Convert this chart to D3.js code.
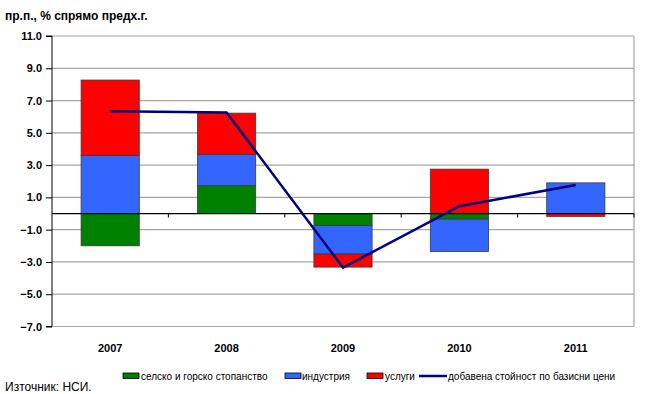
<!DOCTYPE html>
<html><head><meta charset="utf-8">
<script src="https://cdn.jsdelivr.net/npm/d3@7"></script>
<style>body{margin:0;background:#fff}svg{display:block;font-family:"Liberation Sans",Arial,sans-serif}</style>
</head><body>
<svg id="c" width="645" height="394"></svg>
<script>
const categories = ["2007","2008","2009","2010","2011"];
const agriculture = [-2.0, 1.73, -0.75, -0.35, 0.0];
const industry = [3.6, 1.94, -1.76, -2.0, 1.9];
const services = [4.67, 2.55, -0.81, 2.75, -0.18];
const valueAdded = [6.34, 6.26, -3.35, 0.45, 1.77];
const yTicks = [-7, -5, -3, -1, 1, 3, 5, 7, 9, 11];
const seriesNames = ["селско и горско стопанство", "индустрия", "услуги", "добавена стойност по базисни цени"];
const colors = ["#008000", "#3366FF", "#FF0000", "#000080"];

const svg = d3.select("#c");
const L = 52, R = 634, T = 36, B = 326.5;
const x = d3.scaleBand().domain(categories).range([L, R]).paddingInner(0.5).paddingOuter(0.25);
const xc = d3.scalePoint().domain(categories).range([L, R]).padding(0.5);
const y = d3.scaleLinear().domain([-7, 11]).range([B, T]);

// gridlines
svg.append("g").selectAll("line").data(yTicks).join("line")
  .attr("x1", L).attr("x2", R).attr("y1", d => y(d)).attr("y2", d => y(d))
  .attr("stroke", "#a6a6a6").attr("stroke-width", 1.2);
// right border
svg.append("line").attr("x1", R).attr("x2", R).attr("y1", T).attr("y2", B).attr("stroke", "#a6a6a6").attr("stroke-width", 1.2);

// stacked bars (positive / negative stacking)
const stackSeries = [agriculture, industry, services];
categories.forEach((c, i) => {
  let pos = 0, neg = 0;
  stackSeries.forEach((s, k) => {
    const v = s[i];
    if (v === 0) return;
    let y0, y1;
    if (v > 0) { y0 = pos; y1 = pos + v; pos = y1; }
    else { y0 = neg; y1 = neg + v; neg = y1; }
    svg.append("rect")
      .attr("x", x(c)).attr("width", x.bandwidth())
      .attr("y", y(Math.max(y0, y1))).attr("height", Math.abs(y(y0) - y(y1)))
      .attr("fill", colors[k]).attr("stroke", "#3a3a3a").attr("stroke-width", 0.8);
  });
});

// y axis
const yAxis = d3.axisLeft(y).tickValues(yTicks).tickFormat(d3.format(".1f")).tickSize(6).tickPadding(4);
const gy = svg.append("g").attr("transform", `translate(${L},0)`).call(yAxis);
gy.select(".domain").attr("stroke", "#000").attr("d", `M-6,${y(11)}H0V${y(-7)}H-6`);
gy.selectAll(".tick line").attr("stroke", "#000");
gy.selectAll("text").attr("font-size", 11).attr("font-weight", "bold").attr("fill", "#000")
  .attr("font-family", '"Liberation Sans",Arial,sans-serif');

// zero line with tick marks between categories
svg.append("line").attr("x1", L).attr("x2", R).attr("y1", y(0)).attr("y2", y(0)).attr("stroke", "#000").attr("stroke-width", 1.2);
const step = (R - L) / categories.length;
svg.append("g").selectAll("line").data(d3.range(1, categories.length + 1)).join("line")
  .attr("x1", d => L + d * step).attr("x2", d => L + d * step)
  .attr("y1", y(0)).attr("y2", y(0) + 4).attr("stroke", "#000");

// x labels
svg.append("g").selectAll("text").data(categories).join("text")
  .attr("x", d => xc(d)).attr("y", 352).attr("text-anchor", "middle")
  .attr("font-size", 11).attr("font-weight", "bold").text(d => d);

// line
svg.append("path").datum(valueAdded)
  .attr("d", d3.line().x((d, i) => xc(categories[i])).y(d => y(d)))
  .attr("fill", "none").attr("stroke", colors[3]).attr("stroke-width", 2.5);

// title
svg.append("text").attr("x", 5).attr("y", 20).attr("font-size", 12).attr("font-weight", "bold").text("пр.п., % спрямо предх.г.");

// legend
const lg = [{x: 123, tx: 141}, {x: 285, tx: 302}, {x: 367, tx: 385}, {x: 419, tx: 448}];
lg.forEach((p, k) => {
  if (k < 3) {
    svg.append("rect").attr("x", p.x).attr("y", 373).attr("width", 16).attr("height", 5.5)
      .attr("fill", colors[k]).attr("stroke", "#000").attr("stroke-width", 0.8);
  } else {
    svg.append("line").attr("x1", p.x).attr("x2", p.x + 28).attr("y1", 376).attr("y2", 376)
      .attr("stroke", colors[3]).attr("stroke-width", 2.5);
  }
  svg.append("text").attr("x", p.tx).attr("y", 379.5).attr("font-size", 10).text(seriesNames[k]);
});

// source
svg.append("text").attr("x", 5).attr("y", 391).attr("font-size", 12).text("Източник: НСИ.");
</script>
</body></html>
